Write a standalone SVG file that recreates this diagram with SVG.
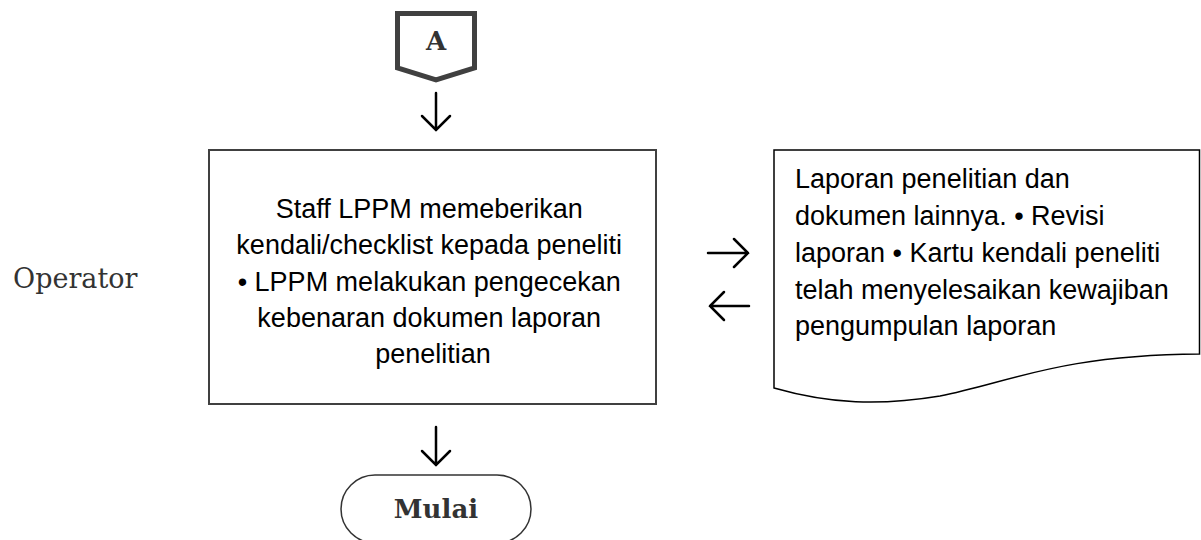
<svg xmlns="http://www.w3.org/2000/svg" width="1201" height="540" viewBox="0 0 1201 540">
<style>
.body{font-family:"Liberation Sans",Arial,sans-serif;font-size:27px;fill:#000}
.ser{font-family:"DejaVu Serif","Liberation Serif",serif;fill:#333}
.conn{stroke:#000;stroke-width:2.5;fill:none;stroke-linecap:round;stroke-linejoin:miter}
</style>
<rect width="1201" height="540" fill="#fff"/>
<g id="connector-A">
<path d="M397.5,13.5 H474.5 V68 L436,80 L397.5,68 Z" fill="#fff" stroke="#404040" stroke-width="5" stroke-linejoin="miter"/>
<text x="436" y="50" class="ser" font-size="26" font-weight="bold" text-anchor="middle">A</text>
</g>
<g id="process">
<rect x="209" y="150" width="447" height="254" fill="#fff" stroke="#404040" stroke-width="2"/>
<text class="body" text-anchor="middle">
<tspan x="433" y="218">Staff LPPM memeberikan</tspan>
<tspan x="433" y="254">kendali/checklist kepada peneliti</tspan>
<tspan x="433" y="290.5">• LPPM melakukan pengecekan</tspan>
<tspan x="433" y="327">kebenaran dokumen laporan</tspan>
<tspan x="433" y="363">penelitian</tspan>
</text>
</g>
<g id="document">
<path d="M774,150 H1199.5 V354 C1060,355 1010,382 940,396 C880,406 830,404 774,388 Z" fill="#fff" stroke="#000" stroke-width="1.5"/>
<text class="body">
<tspan x="795" y="188">Laporan penelitian dan</tspan>
<tspan x="795" y="225">dokumen lainnya. • Revisi</tspan>
<tspan x="795" y="262">laporan • Kartu kendali peneliti</tspan>
<tspan x="795" y="299">telah menyelesaikan kewajiban</tspan>
<tspan x="795" y="335">pengumpulan laporan</tspan>
</text>
</g>
<g id="terminator">
<rect x="341" y="475" width="190" height="68" rx="34" fill="#fff" stroke="#333" stroke-width="1.5"/>
<text x="436" y="518" class="ser" font-size="26" font-weight="bold" text-anchor="middle">Mulai</text>
</g>
<g id="operator-label">
<text x="13" y="288" class="ser" font-size="27">Operator</text>
</g>
<g id="connectors">
<path class="conn" d="M436,93 V130 M422,116 L436,130 L450,116"/>
<path class="conn" d="M436,427 V465 M422,451 L436,465 L450,451"/>
<path class="conn" d="M708,253 H748 M734,239 L748,253 L734,267"/>
<path class="conn" d="M710,306 H749 M724,292 L710,306 L724,320"/>
</g>
</svg>
